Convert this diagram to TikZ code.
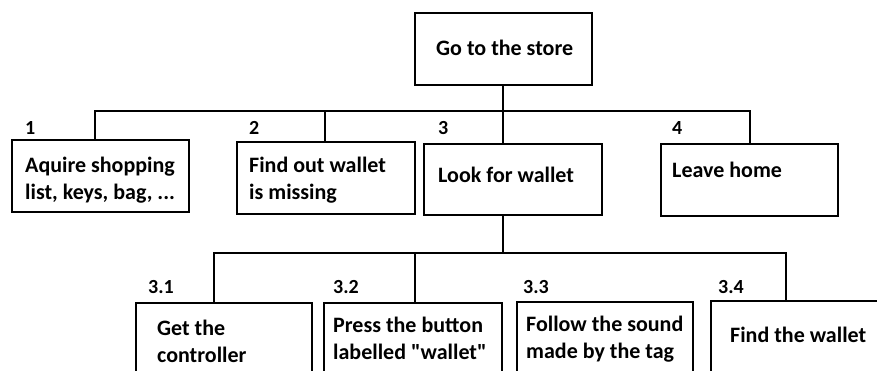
\documentclass[tikz,border=0pt]{standalone}
\usepackage{fontspec}
\setmainfont{Carlito}
\begin{document}
\begin{tikzpicture}[x=1pt,y=-1pt,
  box/.style={draw,line width=1.9pt,rectangle,inner sep=0pt},
  txt/.style={anchor=base west,align=left,inner sep=0pt,font=\fontsize{22}{27}\selectfont\bfseries},
  num/.style={anchor=base west,inner sep=0pt,font=\fontsize{20}{24}\selectfont\bfseries},
  conn/.style={line width=1.9pt}]
\useasboundingbox (0,0) rectangle (877,371);
\clip (0,0) rectangle (877,371);
% boxes
\node[box,minimum width=177pt,minimum height=72pt] (top) at (503.5,49) {};
\node[box,minimum width=177pt,minimum height=72pt] (b1) at (100.5,176) {};
\node[box,minimum width=178pt,minimum height=72pt] (b2) at (326,178) {};
\node[box,minimum width=178pt,minimum height=71pt] (b3) at (513,179.5) {};
\node[box,minimum width=177pt,minimum height=72pt] (b4) at (749.5,180) {};
\node[box,minimum width=176pt,minimum height=90pt] (c1) at (224,348) {};
\node[box,minimum width=178pt,minimum height=90pt] (c2) at (413,348) {};
\node[box,minimum width=176pt,minimum height=90pt] (c3) at (605,347) {};
\node[box,minimum width=180pt,minimum height=90pt] (c4) at (801,346) {};
% texts (y = baseline of last line)
\node[txt] (t0) at (436,56) {Go to the store};
\node[txt] (t1) at (25,200) {Aquire shopping\\list, keys, bag, ...};
\node[txt] (t2) at (249,200) {Find out wallet\\is missing};
\node[txt] (t3) at (438,183) {Look for wallet};
\node[txt] (t4) at (672,178) {Leave home};
\node[txt] (u1) at (157,362) {Get the\\controller};
\node[txt] (u2) at (333,359) {Press the button\\labelled \textquotedbl wallet\textquotedbl};
\node[txt] (u3) at (526,358) {Follow the sound\\made by the tag};
\node[txt] (u4) at (730,342) {Find the wallet};
% numbers
\node[num] (n1) at (25,135) {1};
\node[num] (n2) at (249,135) {2};
\node[num] (n3) at (438,135) {3};
\node[num] (n4) at (672,135) {4};
\node[num] (m1) at (148,293) {3.1};
\node[num] (m2) at (333,293) {3.2};
\node[num] (m3) at (523,293) {3.3};
\node[num] (m4) at (718,293) {3.4};
% connector junctions
\coordinate (j0) at (503,111);
\coordinate (j1) at (95,111);
\coordinate (j2) at (325,111);
\coordinate (j4) at (750,111);
\coordinate (k0) at (503,253);
\coordinate (k1) at (214,253);
\coordinate (k2) at (415,253);
\coordinate (k4) at (786,253);
\draw[conn] (j0 |- top.south) -- (j0 |- b3.north);
\draw[conn] (j1 |- b1.north) -- (j1) -- (j4) -- (j4 |- b4.north);
\draw[conn] (j2 |- b2.north) -- (j2);
\draw[conn] (k0 |- b3.south) -- (k0);
\draw[conn] (k1 |- c1.north) -- (k1) -- (k4) -- (k4 |- c4.north);
\draw[conn] (k2 |- c2.north) -- (k2);
\end{tikzpicture}
\end{document}
